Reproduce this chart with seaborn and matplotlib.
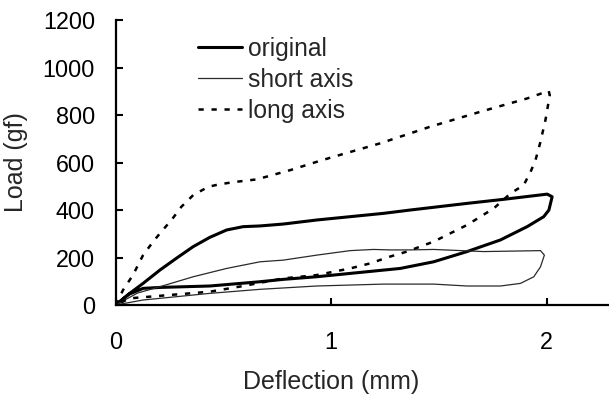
import numpy as np
import pandas as pd
import seaborn as sns
import matplotlib
matplotlib.use("Agg")
import matplotlib.pyplot as plt

# ---- data ----
original_x = [0, 0.065, 0.127, 0.205, 0.282, 0.36, 0.437, 0.515, 0.592, 0.67, 0.778, 0.933,
              1.088, 1.243, 1.367, 1.631, 1.80, 2.003, 2.026, 2.011, 1.987, 1.91, 1.786,
              1.631, 1.476, 1.321, 1.243, 1.088, 0.933, 0.778, 0.67, 0.437, 0.205, 0.127,
              0.06, 0]
original_y = [0, 49, 91, 147, 197, 246, 285, 316, 330, 333, 341, 358,
              372, 386, 400, 428, 445, 467, 456, 400, 372, 330, 274,
              225, 182, 154, 147, 133, 119, 108, 98, 80, 74, 70,
              45, 0]

short_x = [0, 0.1, 0.205, 0.36, 0.515, 0.67, 0.778, 0.933, 1.088, 1.197, 1.274, 1.367,
           1.476, 1.708, 1.972, 1.99, 1.972, 1.941, 1.879, 1.786, 1.631, 1.476, 1.243,
           0.933, 0.67, 0.437, 0.282, 0.127, 0]
short_y = [0, 50, 77, 119, 154, 182, 189, 210, 229, 234, 232, 232,
           234, 225, 229, 210, 161, 119, 91, 80, 80, 88, 88,
           80, 66, 49, 35, 21, 0]

long_x = [0, 0.034, 0.08, 0.127, 0.174, 0.212, 0.259, 0.305, 0.36, 0.43, 0.484, 0.56,
          0.654, 0.81, 0.933, 1.01, 1.228, 1.46, 1.693, 1.91, 2.01, 2.015, 1.995, 1.97,
          1.949, 1.926, 1.894, 1.833, 1.755, 1.631, 1.476, 1.352, 1.274, 1.18, 1.088,
          0.933, 0.778, 0.592, 0.437, 0.25, 0.065, 0]
long_y = [0, 63, 126, 210, 267, 309, 358, 414, 463, 498, 509, 519,
          529, 568, 603, 624, 681, 751, 814, 870, 902, 884, 779, 681,
          611, 561, 505, 470, 407, 337, 267, 225, 204, 175, 154,
          126, 112, 80, 56, 42, 28, 0]

series_labels = ["original", "short axis", "long axis"]
x_ticks = [0, 1, 2]
y_ticks = [0, 200, 400, 600, 800, 1000, 1200]

sns.set_theme(style="ticks")
plt.rcParams["font.family"] = ["Liberation Sans", "DejaVu Sans"]

fig = plt.figure(figsize=(6.09, 3.99), dpi=100)
ax = fig.add_axes([0.190, 0.2356, 0.81, 0.714])

styles = [
    dict(color="black", linewidth=2.2, linestyle="-"),
    dict(color="#2a2a2a", linewidth=0.9, linestyle="-"),
    dict(color="black", linewidth=1.8, linestyle=(0, (2.1, 3.1))),
]
for (xs, ys), lab, st in zip([(original_x, original_y), (short_x, short_y), (long_x, long_y)],
                             series_labels, styles):
    df = pd.DataFrame({"x": xs, "y": ys})
    sns.lineplot(data=df, x="x", y="y", sort=False, estimator=None, ax=ax, label=lab, **st)

ax.set_xlim(0, 2.29)
ax.set_ylim(0, 1200)
ax.set_xticks(x_ticks)
ax.set_yticks(y_ticks)
ax.set_xticklabels([str(t) for t in x_ticks])
ax.set_yticklabels([str(t) for t in y_ticks])
ax.tick_params(direction="in", length=5, width=1.5, labelsize=16.8, colors="black")
ax.tick_params(axis="x", pad=19)
ax.tick_params(axis="y", pad=15)
for s in ["top", "right"]:
    ax.spines[s].set_visible(False)
for s in ["left", "bottom"]:
    ax.spines[s].set_linewidth(1.6)
    ax.spines[s].set_color("black")

ax.set_xlabel("Deflection (mm)", fontsize=18)
ax.set_ylabel("Load (gf)", fontsize=18)
ax_w_px = 0.81 * 609
ax_h_px = 0.714 * 399
ax.xaxis.set_label_coords((331 - 116) / ax_w_px, -(370 - 305) / ax_h_px)
ax.yaxis.set_label_coords(-(116 - 28) / ax_w_px, 0.5)

leg = ax.legend(loc="upper left", bbox_to_anchor=(198 / 609, 1 - 37 / 399),
                bbox_transform=fig.transFigure, frameon=False, fontsize=17.7,
                handlelength=1.78, handletextpad=0.26, labelspacing=0.28, borderpad=0,
                borderaxespad=0)

fig.savefig("out.png", dpi=100)
